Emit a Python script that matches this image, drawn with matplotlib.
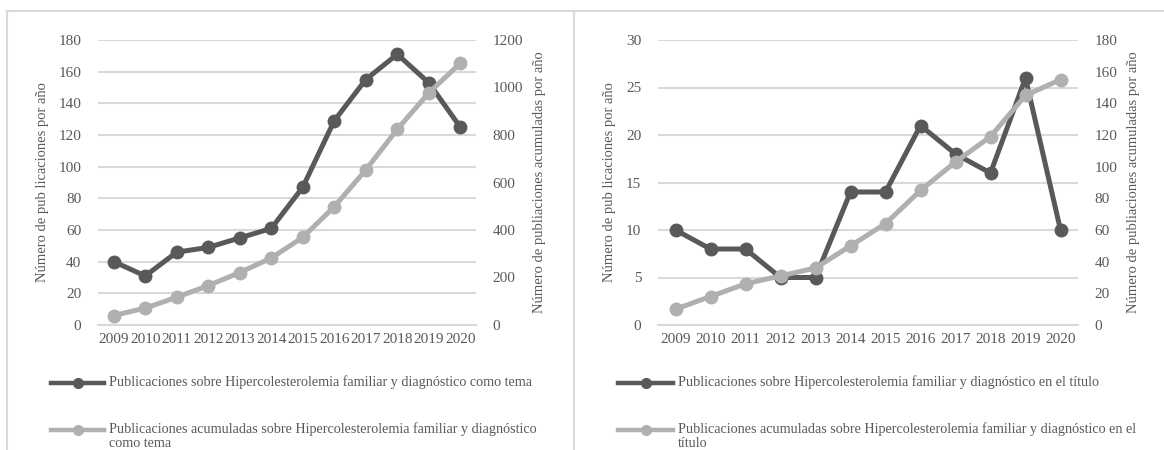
import matplotlib
matplotlib.use("Agg")
import matplotlib.pyplot as plt
from matplotlib.lines import Line2D

plt.rcParams['font.family'] = ['Liberation Serif', 'DejaVu Serif']

# data
years = ['2009', '2010', '2011', '2012', '2013', '2014',
         '2015', '2016', '2017', '2018', '2019', '2020']

tema_anual = [40, 31, 46, 49, 55, 61, 87, 129, 155, 171, 153, 125]
tema_acumulado = [40, 71, 117, 166, 221, 282, 369, 498, 653, 824, 977, 1102]

titulo_anual = [10, 8, 8, 5, 5, 14, 14, 21, 18, 16, 26, 10]
titulo_acumulado = [10, 18, 26, 31, 36, 50, 64, 85, 103, 119, 145, 155]

labels_tema = ['Publicaciones sobre Hipercolesterolemia familiar y diagnóstico como tema',
               'Publicaciones acumuladas sobre Hipercolesterolemia familiar y diagnóstico\ncomo tema']
labels_titulo = ['Publicaciones sobre Hipercolesterolemia familiar y diagnóstico en el título',
                 'Publicaciones acumuladas sobre Hipercolesterolemia familiar y diagnóstico en el\ntítulo']

W, H = 1164, 450
DARK = '#595959'
LIGHT = '#b0b0b0'
GRID = '#d9d9d9'
TXT = '#595959'

fig = plt.figure(figsize=(W / 100, H / 100), dpi=100)


def px(x0, y0, x1, y1):
    # pixel box (top-left origin) -> figure fraction rect
    return [x0 / W, 1 - y1 / H, (x1 - x0) / W, (y1 - y0) / H]


def panel(rect, anual, acum, ymax1, step1, ymax2, step2, xlab_l, xlab_r):
    ax = fig.add_axes(rect)
    ax2 = ax.twinx()
    x = range(len(years))
    ax.plot(x, anual, color=DARK, lw=3.6, marker='o', ms=9, solid_capstyle='round')
    ax2.plot(x, acum, color=LIGHT, lw=3.6, marker='o', ms=9, solid_capstyle='round')

    ax.set_xlim(-0.5, len(years) - 0.5)
    ax.set_ylim(0, ymax1)
    ax2.set_ylim(0, ymax2)
    ax.set_yticks(range(0, ymax1 + 1, step1))
    ax2.set_yticks(range(0, ymax2 + 1, step2))
    ax.set_xticks(list(x))
    ax.set_xticklabels(years)

    ax.yaxis.grid(True, color=GRID, lw=1.5)
    ax.set_axisbelow(True)
    for a in (ax, ax2):
        for s in a.spines.values():
            s.set_visible(False)
        a.tick_params(length=0, labelsize=11, colors=TXT)
    ax.tick_params(axis='y', pad=12)
    ax2.tick_params(axis='y', pad=12)
    ax.tick_params(axis='x', pad=6)
    ax.spines['bottom'].set_visible(True)
    ax.spines['bottom'].set_color(GRID)
    ax.spines['bottom'].set_linewidth(1.5)

    ax.set_ylabel(xlab_l, fontsize=10.5, color=TXT, labelpad=7)
    ax2.set_ylabel(xlab_r, fontsize=10.5, color=TXT, labelpad=7)
    return ax, ax2


panel(px(98, 40, 476, 325), tema_anual, tema_acumulado, 180, 20, 1200, 200,
      'Número de pub licaciones por año', 'Número de publiaciones acumuladas por año')
panel(px(658, 40, 1078, 325), titulo_anual, titulo_acumulado, 30, 5, 180, 20,
      'Número de pub licaciones por año', 'Número de publiaciones acumuladas por año')


def legend_entry(x0, x1, y, color, text):
    xs = [x0 / W, (x0 + x1) / 2 / W, x1 / W]
    ys = [1 - y / H] * 3
    fig.add_artist(Line2D(xs, ys, color=color, lw=3.2, marker='o', ms=7,
                          markevery=[1], transform=fig.transFigure))
    fig.text((x1 + 5) / W, 1 - (y - 8) / H, text, fontsize=10.2, color=TXT,
             va='top', ha='left', linespacing=1.15, transform=fig.transFigure)


legend_entry(51, 104, 383, DARK, labels_tema[0])
legend_entry(51, 104, 430, LIGHT, labels_tema[1])
legend_entry(618, 673, 383, DARK, labels_titulo[0])
legend_entry(618, 673, 430, LIGHT, labels_titulo[1])

# chart frames
border = dict(color=GRID, lw=1.5, transform=fig.transFigure)
fig.add_artist(Line2D([7 / W, 7 / W], [0, 1 - 11 / H], **border))
fig.add_artist(Line2D([7 / W, 1], [1 - 11 / H, 1 - 11 / H], **border))
fig.add_artist(Line2D([574 / W, 574 / W], [0, 1 - 11 / H], **border))

fig.savefig('out.png', dpi=100)
